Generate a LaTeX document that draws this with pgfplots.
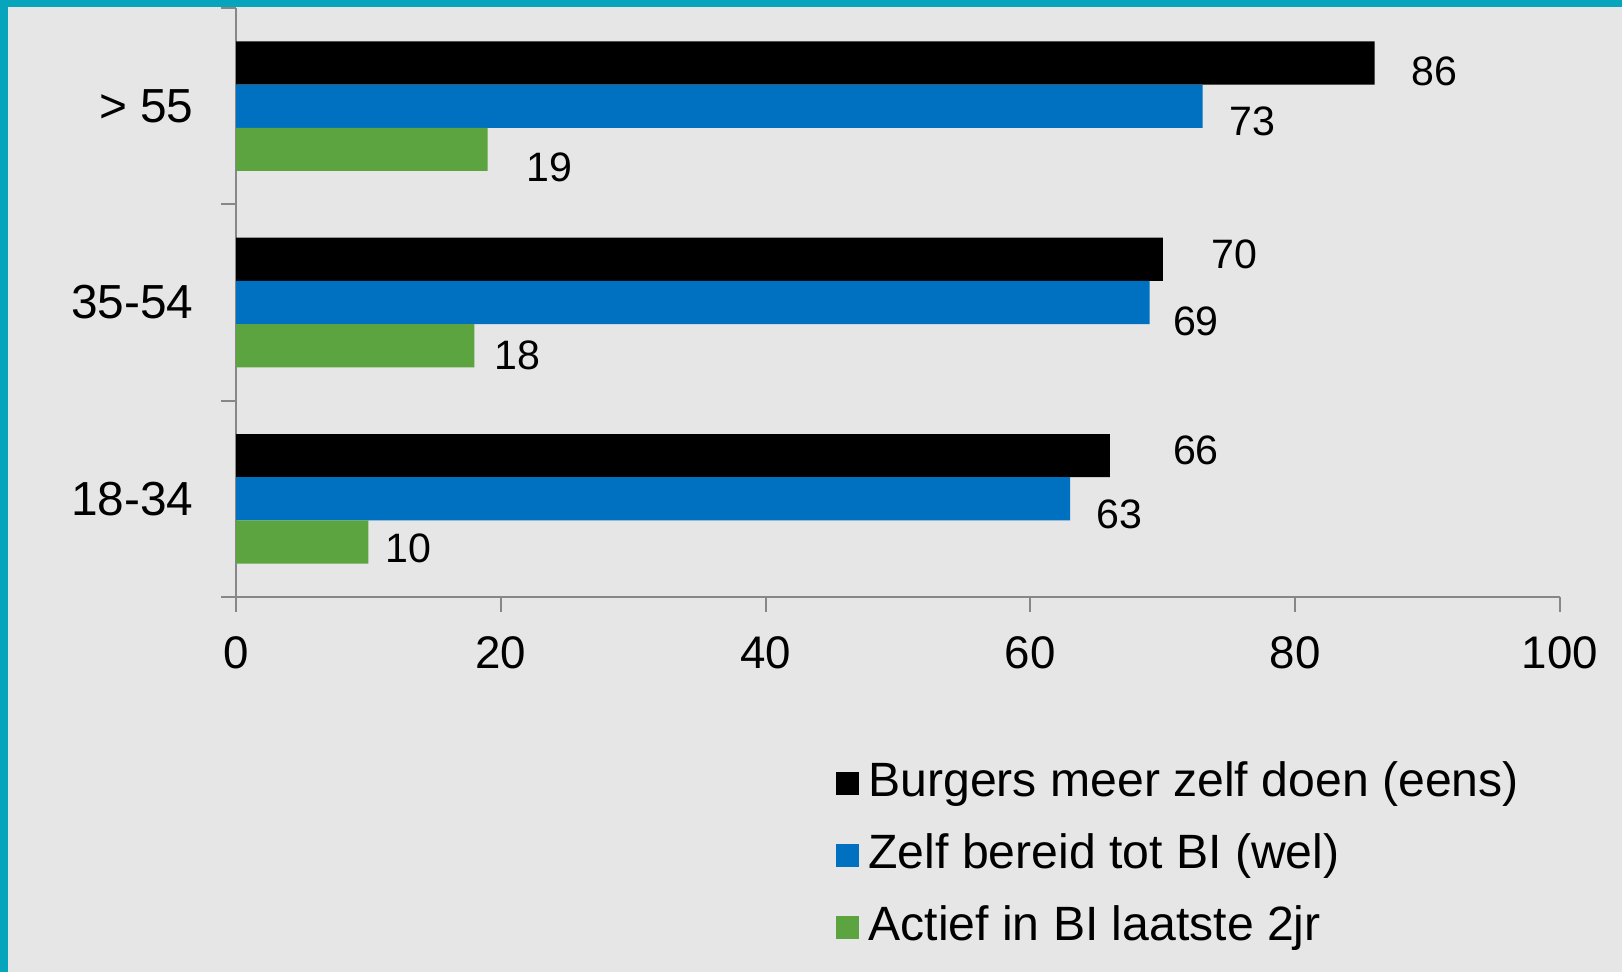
\documentclass[border=0pt]{standalone}
\usepackage{fontspec}
\setmainfont{Liberation Sans}
\usepackage{pgfplots}
\pgfplotsset{compat=1.18}
\definecolor{bgteal}{HTML}{06A5BC}
\definecolor{bggray}{HTML}{E6E6E6}
\definecolor{axgray}{HTML}{878787}
\definecolor{barblue}{HTML}{0070C0}
\definecolor{bargreen}{HTML}{5BA43F}

\begin{document}
\begin{tikzpicture}
% background with teal frame (left and top)
\fill[bgteal] (0mm,0mm) rectangle (162.2mm,97.2mm);
\fill[bggray] (0.83mm,0mm) rectangle (162.2mm,96.5mm);
\useasboundingbox (0mm,0mm) rectangle (162.2mm,97.2mm);
\begin{axis}[
  at={(23.6mm,37.5mm)}, anchor=south west,
  width=132.4mm, height=58.9mm, scale only axis,
  xbar, bar width=0.22,
  xmin=0, xmax=100, ymin=-0.5, ymax=2.5,
  axis x line=bottom, axis y line=left,
  axis line style={-, draw=axgray, line width=0.25mm},
  tick align=outside,
  major tick length=1.5mm, minor tick length=1.5mm,
  xtick={0,20,40,60,80,100},
  x tick style={draw=axgray, line width=0.2mm},
  ytick={0,1,2},
  yticklabels={18-34,35-54,> 55},
  y tick style={draw=none},
  minor ytick={-0.5,0.5,1.5,2.5},
  minor y tick style={draw=axgray, line width=0.2mm},
  /pgf/number format/assume math mode=true,
  xticklabel style={font=\fontsize{13}{15}\selectfont, yshift=-1.2mm},
  yticklabel style={font=\fontsize{13.6}{16}\selectfont, xshift=-1.5mm},
  legend image code/.code={\fill[#1, draw=none] (0mm,-1.15mm) rectangle (2.3mm,1.15mm);},
  legend style={at={(0.445,-0.257)}, anchor=north west, draw=none, fill=none,
    font=\fontsize{13.7}{16}\selectfont, row sep=1.8mm,
    nodes={text height=3.6mm, text depth=1.0mm, inner ysep=0.4mm, inner xsep=0.9mm}},
  legend cell align=left,
  clip=false,
]
\addplot[fill=black, draw=none, bar shift=0.22] coordinates {(66,0) (70,1) (86,2)};
\addlegendentry{Burgers meer zelf doen (eens)}
\addplot[fill=barblue, draw=none, bar shift=0] coordinates {(63,0) (69,1) (73,2)};
\addlegendentry{Zelf bereid tot BI (wel)}
\addplot[fill=bargreen, draw=none, bar shift=-0.22] coordinates {(10,0) (18,1) (19,2)};
\addlegendentry{Actief in BI laatste 2jr}
% data labels, placed as in the reference
\begin{scope}[every node/.style={font=\fontsize{11.7}{14}\selectfont}]
\node at (axis cs:90.5,2.179) {86};
\node at (axis cs:76.8,1.921) {73};
\node at (axis cs:23.7,1.689) {19};
\node at (axis cs:75.4,1.247) {70};
\node at (axis cs:72.5,0.905) {69};
\node at (axis cs:21.25,0.732) {18};
\node at (axis cs:72.5,0.247) {66};
\node at (axis cs:66.7,-0.079) {63};
\node at (axis cs:13.0,-0.253) {10};
\end{scope}
\end{axis}
\end{tikzpicture}
\end{document}
